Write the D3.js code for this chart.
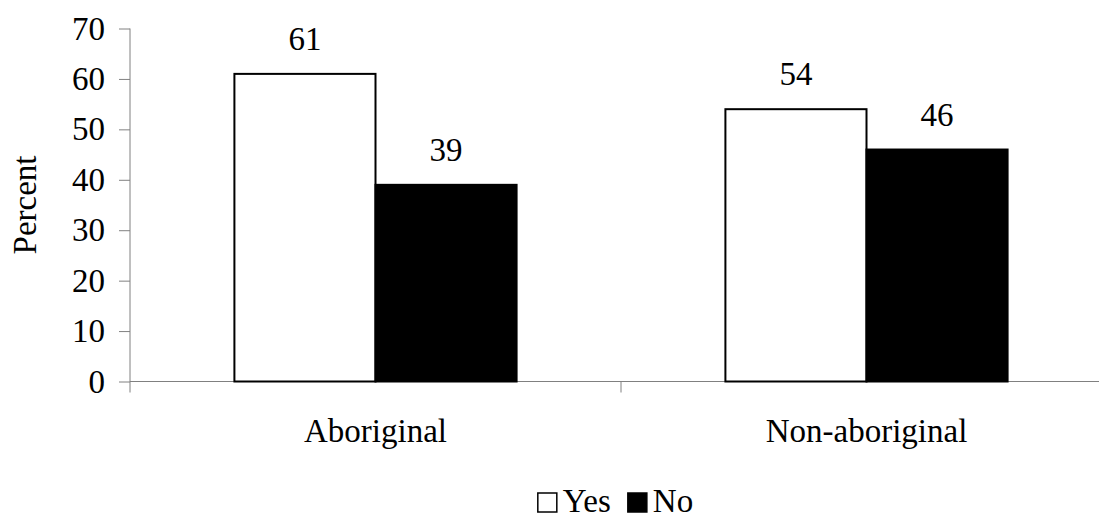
<!DOCTYPE html>
<html>
<head>
<meta charset="utf-8">
<script src="https://cdn.jsdelivr.net/npm/d3@7/dist/d3.min.js"></script>
<style>
  html, body { margin: 0; padding: 0; background: #fff; }
  svg { display: block; }
</style>
</head>
<body>
<svg id="chart" width="1099" height="520"></svg>
<script>
// Survey responses by group (percent)
const categories = ["Aboriginal", "Non-aboriginal"];
const series = ["Yes", "No"];
const yesValues = [61, 54];
const noValues = [39, 46];
const yTicks = [0, 10, 20, 30, 40, 50, 60, 70];
const seriesFill = { Yes: "#ffffff", No: "#000000" };

// Pick the first installed serif face (Times-like preferred)
function pickSerif() {
  const ctx = document.createElement("canvas").getContext("2d");
  const probe = "Aboriginal Non-aboriginal 0123456789 Percent";
  ctx.font = "40px monospace";
  const mono = ctx.measureText(probe).width;
  ctx.font = "40px sans-serif";
  const sans = ctx.measureText(probe).width;
  const candidates = ["Liberation Serif", "Tinos", "Times New Roman", "Times", "Noto Serif", "DejaVu Serif", "FreeSerif"];
  for (const f of candidates) {
    ctx.font = `40px "${f}", monospace`;
    const w1 = ctx.measureText(probe).width;
    ctx.font = `40px "${f}", sans-serif`;
    const w2 = ctx.measureText(probe).width;
    if (w1 !== mono || w2 !== sans) return `"${f}", serif`;
  }
  return "serif";
}

const FONT = pickSerif();
const fontSize = 33;

const svg = d3.select("#chart")
  .attr("font-family", FONT)
  .style("font-family", FONT);

const plot = { left: 130, right: 1112, top: 28.5, bottom: 381.5 };

const y = d3.scaleLinear().domain([0, 70]).range([plot.bottom, plot.top]);
const x = d3.scaleBand().domain(categories).range([plot.left, plot.right]).padding(0);
const xSub = d3.scaleBand().domain(series).range([0, x.bandwidth()])
  .paddingInner(0).paddingOuter(0.74);

const rows = categories.map((c, i) => ({
  category: c,
  values: [
    { key: "Yes", value: yesValues[i] },
    { key: "No", value: noValues[i] }
  ]
}));

function label(sel) {
  return sel.attr("font-family", FONT)
    .style("font-family", FONT)
    .style("font-size", fontSize + "px")
    .attr("fill", "#000");
}

// Y axis
const yAxis = svg.append("g")
  .attr("transform", `translate(${plot.left},0)`)
  .call(d3.axisLeft(y).tickValues(yTicks).tickSize(11).tickPadding(14));
yAxis.attr("font-family", FONT);
yAxis.select(".domain").attr("stroke", "#808080").attr("d", `M0,${plot.top}V${plot.bottom + 11}`);
yAxis.selectAll(".tick line").attr("stroke", "#808080");
yAxis.selectAll(".tick text").call(label);

// X axis: ticks sit at band boundaries
const xAxis = svg.append("g")
  .attr("transform", `translate(0,${plot.bottom})`);
xAxis.append("line")
  .attr("x1", plot.left).attr("x2", plot.right)
  .attr("y1", 0).attr("y2", 0)
  .attr("stroke", "#808080");
const boundaries = categories.map(c => x(c)).concat([x(categories[categories.length - 1]) + x.bandwidth()]);
xAxis.selectAll("line.tick")
  .data(boundaries.slice(1))
  .enter().append("line")
  .attr("class", "tick")
  .attr("x1", d => d).attr("x2", d => d)
  .attr("y1", 0).attr("y2", 11)
  .attr("stroke", "#808080");

// Category labels
svg.append("g").selectAll("text")
  .data(categories)
  .enter().append("text")
  .attr("x", d => x(d) + x.bandwidth() / 2)
  .attr("y", 442)
  .attr("text-anchor", "middle")
  .call(label)
  .text(d => d);

// Bars
const groups = svg.append("g").selectAll("g")
  .data(rows)
  .enter().append("g")
  .attr("transform", d => `translate(${x(d.category)},0)`);

groups.selectAll("rect")
  .data(d => d.values)
  .enter().append("rect")
  .attr("x", d => xSub(d.key))
  .attr("y", d => y(d.value))
  .attr("width", xSub.bandwidth())
  .attr("height", d => y(0) - y(d.value))
  .attr("fill", d => seriesFill[d.key])
  .attr("stroke", "#000")
  .attr("stroke-width", 2);

groups.selectAll("text")
  .data(d => d.values)
  .enter().append("text")
  .attr("x", d => xSub(d.key) + xSub.bandwidth() / 2)
  .attr("y", d => y(d.value) - 24)
  .attr("text-anchor", "middle")
  .call(label)
  .text(d => d.value);

// Y axis title
svg.append("text")
  .attr("transform", `translate(36,${(plot.top + plot.bottom) / 2}) rotate(-90)`)
  .attr("text-anchor", "middle")
  .call(label)
  .text("Percent");

// Legend, centred under the plot's middle boundary
const legend = svg.append("g");
let lx = 0;
series.forEach(s => {
  const item = legend.append("g").attr("transform", `translate(${lx},0)`);
  item.append("rect")
    .attr("x", 1).attr("y", -19)
    .attr("width", 19).attr("height", 19)
    .attr("fill", seriesFill[s])
    .attr("stroke", "#000")
    .attr("stroke-width", 1.5);
  const t = item.append("text")
    .attr("x", 26).attr("y", 0)
    .call(label)
    .text(s);
  lx += 26 + t.node().getComputedTextLength() + 16;
});
const legendWidth = lx - 16;
legend.attr("transform", `translate(${boundaries[1] - 6 - legendWidth / 2},512)`);
</script>
</body>
</html>
